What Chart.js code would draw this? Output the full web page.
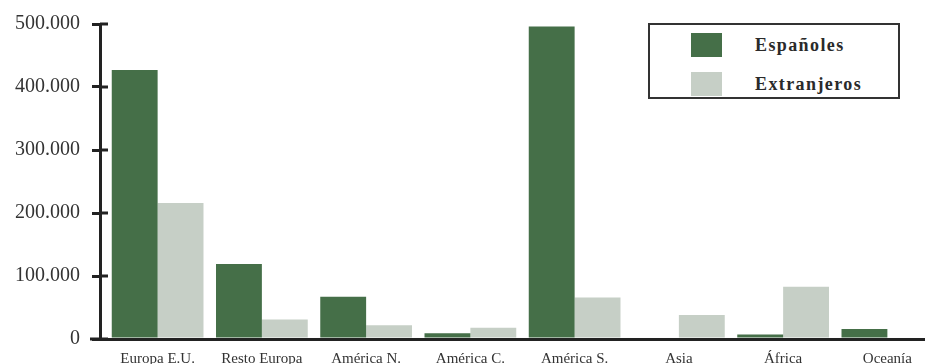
<!DOCTYPE html>
<html>
<head>
<meta charset="utf-8">
<script src="https://cdn.jsdelivr.net/npm/chart.js@4"></script>
<style>
    body { margin: 0; background: #fff; }
    #contenedor { position: relative; width: 925px; height: 364px; }
    #leyenda {
        position: absolute; left: 648px; top: 23px; width: 248px; height: 72px;
        border: 2px solid #333; background: #fff;
        font-family: "Liberation Serif", serif; font-weight: bold; font-size: 18px; color: #2a2a2a;
    }
    .fila { position: absolute; left: 41px; height: 24px; display: flex; align-items: center; }
    .muestra { width: 31px; height: 24px; margin-right: 33px; }
    .texto { letter-spacing: 1.4px; }
</style>
</head>
<body>
<div id="contenedor">
    <canvas id="grafico" width="925" height="364"></canvas>
    <div id="leyenda"></div>
</div>
<script>
// categorías y valores (personas)
const regiones = ['Europa E.U.', 'Resto Europa', 'América N.', 'América C.', 'América S.', 'Asia', 'África', 'Oceanía'];
const espanoles = [427000, 119000, 67000, 9000, 496000, 0, 7000, 16000];
const extranjeros = [216000, 31000, 22000, 18000, 66000, 38000, 83000, 0];
const marcasEje = [0, 100000, 200000, 300000, 400000, 500000];

const verde = '#456f48';
const gris = '#c6cfc6';

function formatoMiles(v) {
    return v === 0 ? '0' : (v / 1000) + '.000';
}

// el eje de categorías del original empieza un poco después del eje Y
// y sigue más allá del borde derecho
const ajusteEjeX = {
    id: 'ajusteEjeX',
    afterLayout(chart) {
        const x = chart.scales.x;
        x._startPixel = chart.chartArea.left + 5.5;
        x._endPixel = x._startPixel + 834;
        x._length = 834;
    }
};

// marcas del eje Y que cruzan la línea
const marcasCruzadas = {
    id: 'marcasCruzadas',
    afterDraw(chart) {
        const y = chart.scales.y;
        const area = chart.chartArea;
        const c = chart.ctx;
        c.save();
        c.strokeStyle = '#222';
        c.lineWidth = 3;
        for (const v of marcasEje) {
            const py = y.getPixelForValue(v);
            c.beginPath();
            c.moveTo(area.left, py);
            c.lineTo(area.left + 8, py);
            c.stroke();
        }
        // la línea base asoma a la izquierda del eje
        c.beginPath();
        c.moveTo(area.left - 10, area.bottom);
        c.lineTo(area.left, area.bottom);
        c.stroke();
        c.restore();
    }
};

const grafico = new Chart(document.getElementById('grafico'), {
    type: 'bar',
    data: {
        labels: regiones,
        datasets: [
            { label: 'Españoles', data: espanoles, backgroundColor: verde },
            { label: 'Extranjeros', data: extranjeros, backgroundColor: gris }
        ]
    },
    options: {
        responsive: false,
        animation: false,
        categoryPercentage: 0.88,
        barPercentage: 1.0,
        layout: { padding: { top: 20, right: 0, left: 0, bottom: 0 } },
        plugins: {
            legend: { display: false },
            tooltip: { enabled: false }
        },
        scales: {
            x: {
                afterFit(s) { s.height = 25; },
                grid: { drawOnChartArea: false, drawTicks: false, color: '#222', lineWidth: 3 },
                border: { color: '#222', width: 3 },
                ticks: {
                    padding: 11,
                    color: '#333',
                    font: { family: 'Liberation Serif', size: 15 }
                }
            },
            y: {
                min: 0,
                max: 500000,
                afterFit(s) { s.width = 100; },
                afterBuildTicks(s) { s.ticks = marcasEje.map(v => ({ value: v })); },
                grid: { drawOnChartArea: false, drawTicks: true, tickLength: 8, color: '#222', lineWidth: 3 },
                border: { color: '#222', width: 3 },
                ticks: {
                    padding: 12,
                    color: '#333',
                    font: { family: 'Liberation Serif', size: 20 },
                    callback: (v) => formatoMiles(v)
                }
            }
        }
    },
    plugins: [ajusteEjeX, marcasCruzadas]
});

// leyenda en HTML
const leyenda = document.getElementById('leyenda');
grafico.data.datasets.forEach((ds, i) => {
    const fila = document.createElement('div');
    fila.className = 'fila';
    fila.style.top = (i === 0 ? 8 : 47) + 'px';
    fila.innerHTML = '<div class="muestra" style="background:' + ds.backgroundColor + '"></div><span class="texto">' + ds.label + '</span>';
    leyenda.appendChild(fila);
});
</script>
</body>
</html>
